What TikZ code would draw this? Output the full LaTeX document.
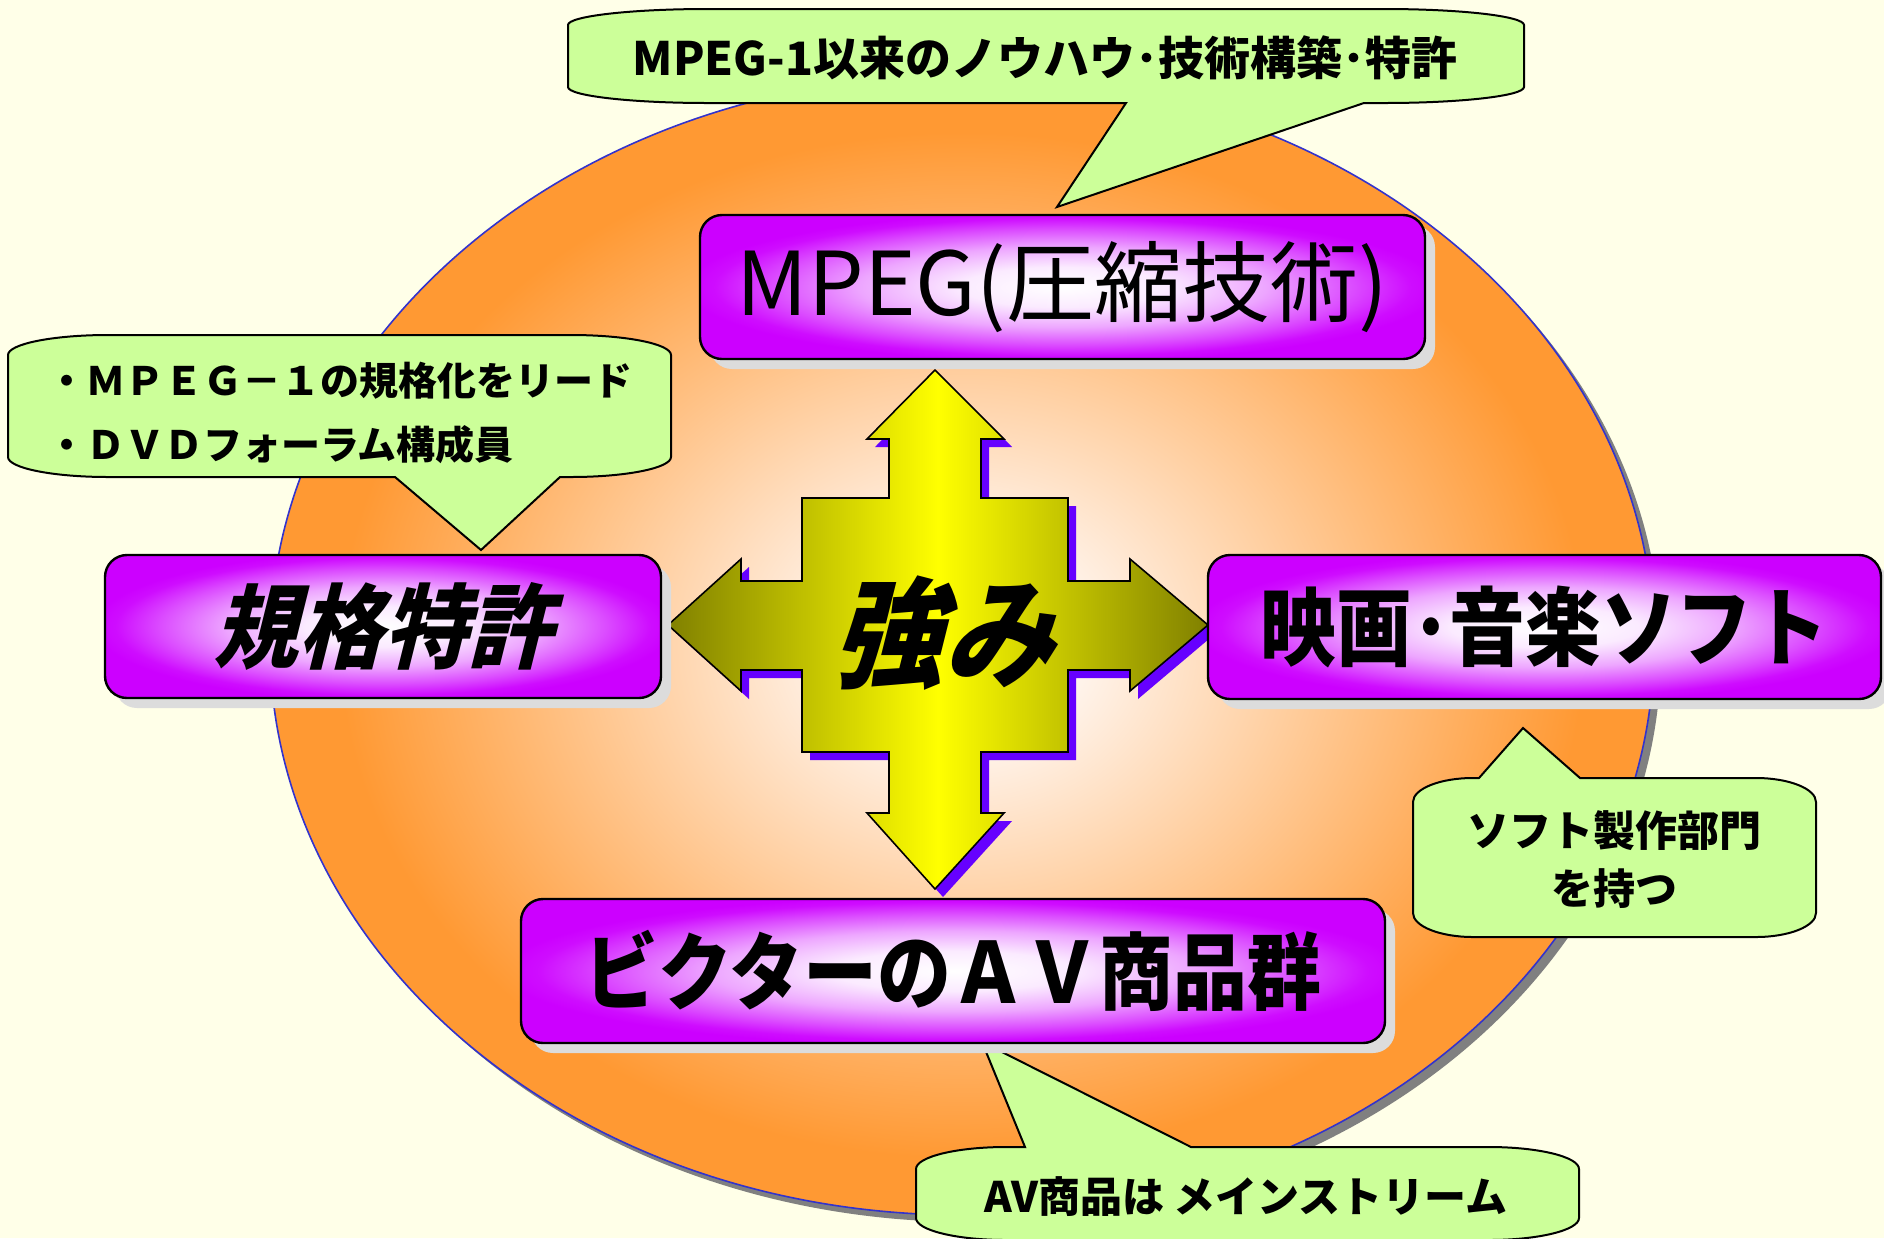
\documentclass[tikz,border=0pt]{standalone}
\usepackage{fontspec}
\newfontfamily\jp{Noto Sans CJK JP}
\newfontfamily\jpnarrow{Noto Sans CJK JP}[FakeStretch=0.88]
\newfontfamily\jpsl{Noto Sans CJK JP}[FakeSlant=0.25,FakeStretch=0.92]
\usetikzlibrary{shadows}
\definecolor{bgcream}{HTML}{FFFFE8}
\definecolor{ballin}{HTML}{FFF6F0}
\definecolor{ballout}{HTML}{FF9933}
\definecolor{ballrim}{HTML}{3333CC}
\definecolor{ballshadow}{HTML}{808080}
\definecolor{purp}{HTML}{CC00FF}
\definecolor{notegreen}{HTML}{CCFF99}
\definecolor{crossdark}{HTML}{808000}
\definecolor{crosslight}{HTML}{FFFF00}
\definecolor{crossshadow}{HTML}{6600FF}
\definecolor{boxshadow}{HTML}{DCDCDC}
\pgfdeclareradialshading{ballshade}{\pgfpoint{0bp}{0bp}}{color(0bp)=(ballin); color(4bp)=(ballin); color(22.5bp)=(ballout); color(50bp)=(ballout)}
\pgfdeclareradialshading{boxshade}{\pgfpoint{0bp}{0bp}}{color(0bp)=(white); color(7bp)=(white!92!purp); color(14bp)=(white!65!purp); color(20bp)=(white!30!purp); color(24bp)=(white!5!purp); color(26bp)=(purp); color(50bp)=(purp)}
\tikzset{
  pics/fourway/.style={code={
    \path[pic actions] (0,-255) -- (69,-186) -- (46,-186) -- (46,-127) -- (133,-127) -- (133,-44)
      -- (195,-44) -- (195,-66) -- (273,0) -- (195,66) -- (195,45) -- (133,45) -- (133,127)
      -- (46,127) -- (46,188) -- (69,188) -- (0,264) -- (-68,188) -- (-46,188) -- (-46,127)
      -- (-133,127) -- (-133,45) -- (-194,45) -- (-194,66) -- (-267,0) -- (-194,-66) -- (-194,-44)
      -- (-133,-44) -- (-133,-127) -- (-46,-127) -- (-46,-186) -- (-68,-186) -- cycle;
  }}
}
\begin{document}
\begin{tikzpicture}[x=0.5pt,y=-0.5pt,
  ball/.style={draw=ballrim, line width=0.8pt, shade, shading=ballshade},
  box/.style={draw=black, line width=1.2pt, rounded corners=11pt, shade, shading=boxshade,
    drop shadow={shadow xshift=5pt, shadow yshift=-5pt, fill=boxshadow, opacity=1},
    inner sep=0pt, font=\jp\fontsize{44}{48}\selectfont},
  bubble/.style={draw=black, line width=1pt, fill=notegreen},
  note/.style={font=\jp\bfseries\fontsize{21}{29}\selectfont, align=center}]
\useasboundingbox (0,0) rectangle (1884,1238);
\fill[bgcream] (0,0) rectangle (1884,1238);

% oval
\fill[ballshadow] (969,652) ellipse [x radius=692, y radius=570];
\path[ball] (962,645) ellipse [x radius=692, y radius=570];

% callouts
\draw[bubble] (568,25) .. controls (568,16.2) and (630.7,9) .. (708,9) -- (1384,9)
  .. controls (1461.3,9) and (1524,16.2) .. (1524,25) -- (1524,87)
  .. controls (1524,95.8) and (1461.3,103) .. (1384,103) -- (1364,103) -- (1057,207) -- (1126,103)
  -- (708,103) .. controls (630.7,103) and (568,95.8) .. (568,87) -- cycle;
\draw[bubble] (8,355) .. controls (8,344) and (52.8,335) .. (108,335) -- (571,335)
  .. controls (626.2,335) and (671,344) .. (671,355) -- (671,457)
  .. controls (671,468) and (626.2,477) .. (571,477) -- (560,477) -- (481,550) -- (395,477)
  -- (108,477) .. controls (52.8,477) and (8,468) .. (8,457) -- cycle;
\draw[bubble] (1413,802) .. controls (1413,788.8) and (1439.9,778) .. (1473,778) -- (1479,778)
  -- (1523,728) -- (1580,778) -- (1756,778) .. controls (1789.1,778) and (1816,788.8) .. (1816,802)
  -- (1816,913) .. controls (1816,926.2) and (1789.1,937) .. (1756,937) -- (1473,937)
  .. controls (1439.9,937) and (1413,926.2) .. (1413,913) -- cycle;
\draw[bubble] (916,1169) .. controls (916,1156.9) and (956.3,1147) .. (1006,1147) -- (1025,1147)
  -- (982,1042) -- (1191,1147) -- (1489,1147) .. controls (1538.7,1147) and (1579,1156.9) .. (1579,1169)
  -- (1579,1218) .. controls (1579,1230.1) and (1538.7,1240) .. (1489,1240) -- (1006,1240)
  .. controls (956.3,1240) and (916,1230.1) .. (916,1218) -- cycle;

\node[note, font=\jp\bfseries\fontsize{23}{28}\selectfont] (topnote) at (1045,58) {MPEG-1以来のノウハウ･技術構築･特許};
\node[note, anchor=west, align=left, font=\jp\bfseries\fontsize{19.5}{32}\selectfont] (leftnote) at (40,413)
  {・ＭＰＥＧ－１の規格化をリード\\・ＤＶＤフォーラム構成員};
\node[note] (rightnote) at (1614,860) {ソフト製作部門\\を持つ};
\node[note] (bottomnote) at (1246,1197) {AV商品は メインストリーム};

% four-way arrow
\pic[fill=crossshadow] at (943,633) {fourway};
\pic[draw=black, line width=0.8pt, left color=crossdark, right color=crossdark, middle color=crosslight] at (935,625) {fourway};
\node[font=\jpsl\bfseries\fontsize{60}{62}\selectfont] (kyomi) at (943,633) {強み};

% boxes
\node[box, minimum width=362.5pt, minimum height=72pt] (mpeg) at (1062.5,287) {MPEG(圧縮技術)};
\node[box, minimum width=278pt, minimum height=71.5pt, font=\jpsl\bfseries\fontsize{46}{48}\selectfont] (kikaku) at (383,626.5) {規格特許};
\node[box, minimum width=336.5pt, minimum height=72pt, font=\jpnarrow\bfseries\fontsize{43}{48}\selectfont] (eiga) at (1544.5,627) {映画･音楽ソフト};
\node[box, minimum width=432pt, minimum height=72pt, font=\jpnarrow\bfseries\fontsize{42}{48}\selectfont] (victor) at (953,971) {ビクターのＡＶ商品群};
\end{tikzpicture}
\end{document}
